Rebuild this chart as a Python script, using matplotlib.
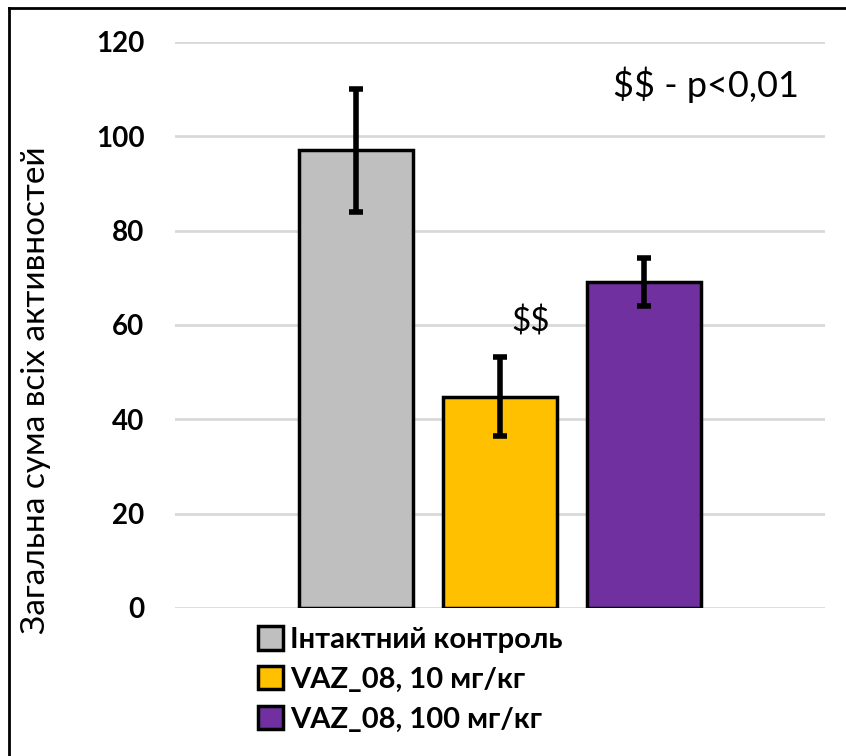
import matplotlib.pyplot as plt
from matplotlib.lines import Line2D

plt.rcParams['font.family'] = ['Lato', 'DejaVu Sans']
plt.rcParams['text.parse_math'] = False

groups = ["Інтактний контроль", "VAZ_08, 10 мг/кг", "VAZ_08, 100 мг/кг"]
means = [97, 44.8, 69.1]
errors = [13, 8.4, 5]
colors = ['#bfbfbf', '#ffc000', '#7030a0']
yticks = [0, 20, 40, 60, 80, 100, 120]

W, H = 846, 756
fig = plt.figure(figsize=(W / 100, H / 100), dpi=100)
ax = fig.add_axes([175 / W, 1 - 608 / H, 650 / W, 566 / H])

xpos = [-1, 0, 1]
ax.bar(xpos, means, width=0.79, color=colors, edgecolor='black', linewidth=2.5,
       yerr=errors, error_kw=dict(ecolor='black', elinewidth=4, capsize=5, capthick=4),
       zorder=3)

ax.set_xlim(-2.257, 2.257)
ax.set_ylim(0, 120)
ax.set_yticks(yticks)
ax.set_yticklabels([str(t) for t in yticks], fontsize=20, fontweight='bold')
ax.tick_params(axis='y', length=0, pad=22)
ax.set_xticks([])
ax.yaxis.grid(True, color='#d9d9d9', linewidth=2, zorder=0)
ax.set_axisbelow(True)
for s in ax.spines.values():
    s.set_visible(False)

ax.set_ylabel("Загальна сума всіх активностей", fontsize=24)
ax.yaxis.label.set_va('center')
ax.yaxis.set_label_coords(-0.214, 0.385)

ax.text(0.21, 60.6, "$$", fontsize=24, ha='center', va='center', zorder=4)
ax.text(1.43, 110.9, "$$ - p<0,01", fontsize=26, ha='center', va='center')

# legend below the plot
handles = [plt.Rectangle((0, 0), 1, 1, facecolor=c, edgecolor='black', linewidth=2.5)
           for c in colors]
fig.legend(handles, groups, loc='upper left', bbox_to_anchor=(232 / W, 1 - 600 / H),
           frameon=False, prop={'size': 21, 'weight': 'bold'},
           handlelength=0.85, handleheight=0.85, handletextpad=0.25, labelspacing=0.45)

# outer frame (cropped: only top and left edges visible)
fig.add_artist(Line2D([9 / W, 1], [1 - 8 / H, 1 - 8 / H], color='black', linewidth=2,
                      transform=fig.transFigure))
fig.add_artist(Line2D([9 / W, 9 / W], [0, 1 - 8 / H], color='black', linewidth=2,
                      transform=fig.transFigure))

fig.savefig('out.png', dpi=100)
plt.close()
